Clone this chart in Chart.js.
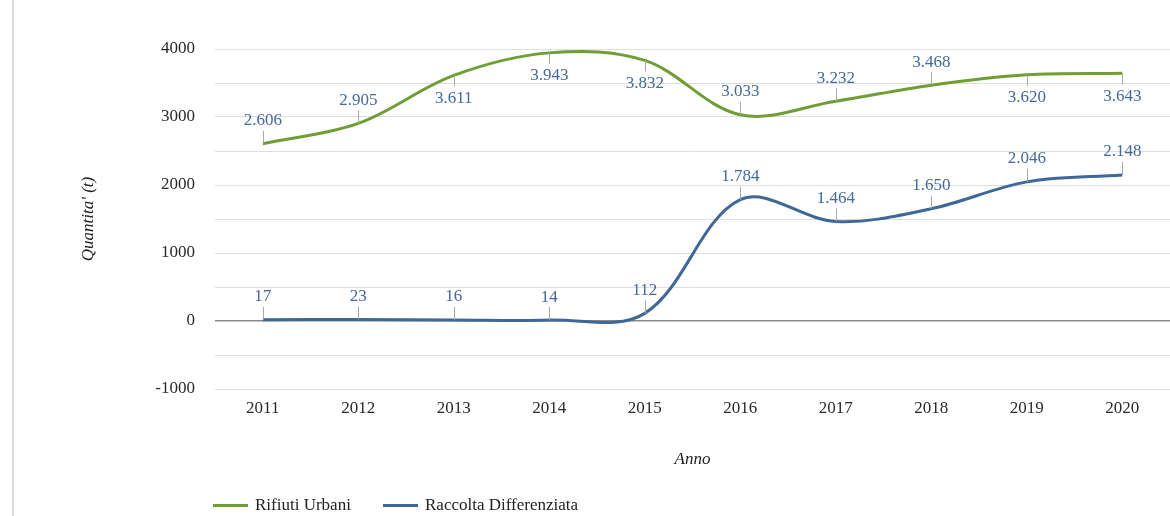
<!DOCTYPE html>
<html>
<head>
<meta charset="utf-8">
<script src="https://cdn.jsdelivr.net/npm/chart.js@4"></script>
<style>
  html, body { margin: 0; padding: 0; background: #fff; }
  #wrap { position: relative; width: 1170px; height: 516px; }
  #frame { position: absolute; left: 12px; top: 0; width: 2px; height: 516px; background: #dcdcdc; }
  #legend { position: absolute; left: 0; top: 495px; width: 1170px; height: 21px; font: 17px "Liberation Serif", serif; color: #222; }
  #legend span { position: absolute; top: 0; display: flex; align-items: center; white-space: nowrap; }
  #legend i { display: inline-block; width: 35px; height: 3px; margin-right: 7px; }
</style>
</head>
<body>
<div id="wrap">
  <div id="frame"></div>
  <canvas id="c" width="1170" height="516"></canvas>
  <div id="legend"></div>
</div>
<script>
// ===== 数据 =====
const anni = ['2011', '2012', '2013', '2014', '2015', '2016', '2017', '2018', '2019', '2020'];
const rifiutiUrbani = [2606, 2905, 3611, 3943, 3832, 3033, 3232, 3468, 3620, 3643];
const raccoltaDifferenziata = [17, 23, 16, 14, 112, 1784, 1464, 1650, 2046, 2148];

// etichette sotto il punto (solo serie verde)
const labelBelow = [
  [false, false, true, true, true, false, false, false, true, true],
  [false, false, false, false, false, false, false, false, false, false],
];

const GREEN = '#6f9e36';
const BLUE = '#3f6898';
const FONT = '"Liberation Serif", "Times New Roman", serif';

const fmt = v => {
  const s = String(Math.abs(v));
  const g = s.replace(/\B(?=(\d{3})+(?!\d))/g, '.');
  return (v < 0 ? '-' : '') + g;
};

// ===== etichette con linea guida =====
const leaderLabels = {
  id: 'leaderLabels',
  afterDatasetsDraw(chart) {
    const { ctx } = chart;
    ctx.save();
    ctx.font = '17px ' + FONT;
    ctx.textAlign = 'center';
    ctx.textBaseline = 'middle';
    chart.data.datasets.forEach((ds, di) => {
      const meta = chart.getDatasetMeta(di);
      meta.data.forEach((pt, i) => {
        const below = labelBelow[di][i];
        const x = pt.x, y = pt.y;
        const ty = below ? y + 23 : y - 23;
        const ly = below ? y + 11 : y - 13;
        ctx.strokeStyle = '#a9a9a9';
        ctx.lineWidth = 1;
        ctx.beginPath();
        ctx.moveTo(Math.round(x) + 0.5, y);
        ctx.lineTo(Math.round(x) + 0.5, ly);
        ctx.stroke();
        ctx.fillStyle = '#44699b';
        ctx.fillText(fmt(ds.data[i]), x, ty);
      });
    });
    ctx.restore();
  },
};

new Chart(document.getElementById('c'), {
  type: 'line',
  plugins: [leaderLabels],
  data: {
    labels: anni,
    datasets: [
      {
        label: 'Rifiuti Urbani',
        data: rifiutiUrbani,
        borderColor: GREEN,
        borderWidth: 3,
        pointRadius: 0,
        tension: 0.35,
        fill: false,
      },
      {
        label: 'Raccolta Differenziata',
        data: raccoltaDifferenziata,
        borderColor: BLUE,
        borderWidth: 3,
        pointRadius: 0,
        tension: 0.35,
        fill: false,
      },
    ],
  },
  options: {
    responsive: false,
    animation: false,
    layout: { padding: { left: 0, right: 0, top: 49, bottom: 46 } },
    plugins: {
      legend: { display: false },
      tooltip: { enabled: false },
    },
    scales: {
      x: {
        offset: true,
        grid: { display: false, drawTicks: false },
        border: { display: false },
        ticks: { padding: 9, color: '#2a2a2a', font: { family: FONT, size: 17 } },
        title: {
          display: true, text: 'Anno', color: '#222',
          font: { family: FONT, size: 17, style: 'italic' },
          padding: { top: 0, bottom: 0 },
        },
        afterFit: s => { s.height = 81; },
      },
      y: {
        min: -1000,
        max: 4000,
        grid: {
          drawTicks: false,
          color: c => (c.tick && c.tick.value === 0 ? '#8a8a8a' : '#dedede'),
          lineWidth: c => (c.tick && c.tick.value === 0 ? 1.5 : 1),
        },
        border: { display: false },
        ticks: {
          stepSize: 500,
          padding: 20,
          color: '#2a2a2a',
          font: { family: FONT, size: 17 },
          callback: v => (v % 1000 === 0 ? String(v) : ''),
        },
        title: {
          display: true, text: "Quantita' (t)", color: '#222',
          font: { family: FONT, size: 17, style: 'italic' },
          padding: { top: 78, bottom: 0 },
        },
        afterFit: s => { s.width = 215; },
      },
    },
  },
});

// legenda
const legendItems = [
  ['Rifiuti Urbani', GREEN, 213],
  ['Raccolta Differenziata', BLUE, 383],
];
document.getElementById('legend').innerHTML = legendItems
  .map(([t, c, x]) => `<span style="left:${x}px"><i style="background:${c}"></i>${t}</span>`)
  .join('');
</script>
</body>
</html>
